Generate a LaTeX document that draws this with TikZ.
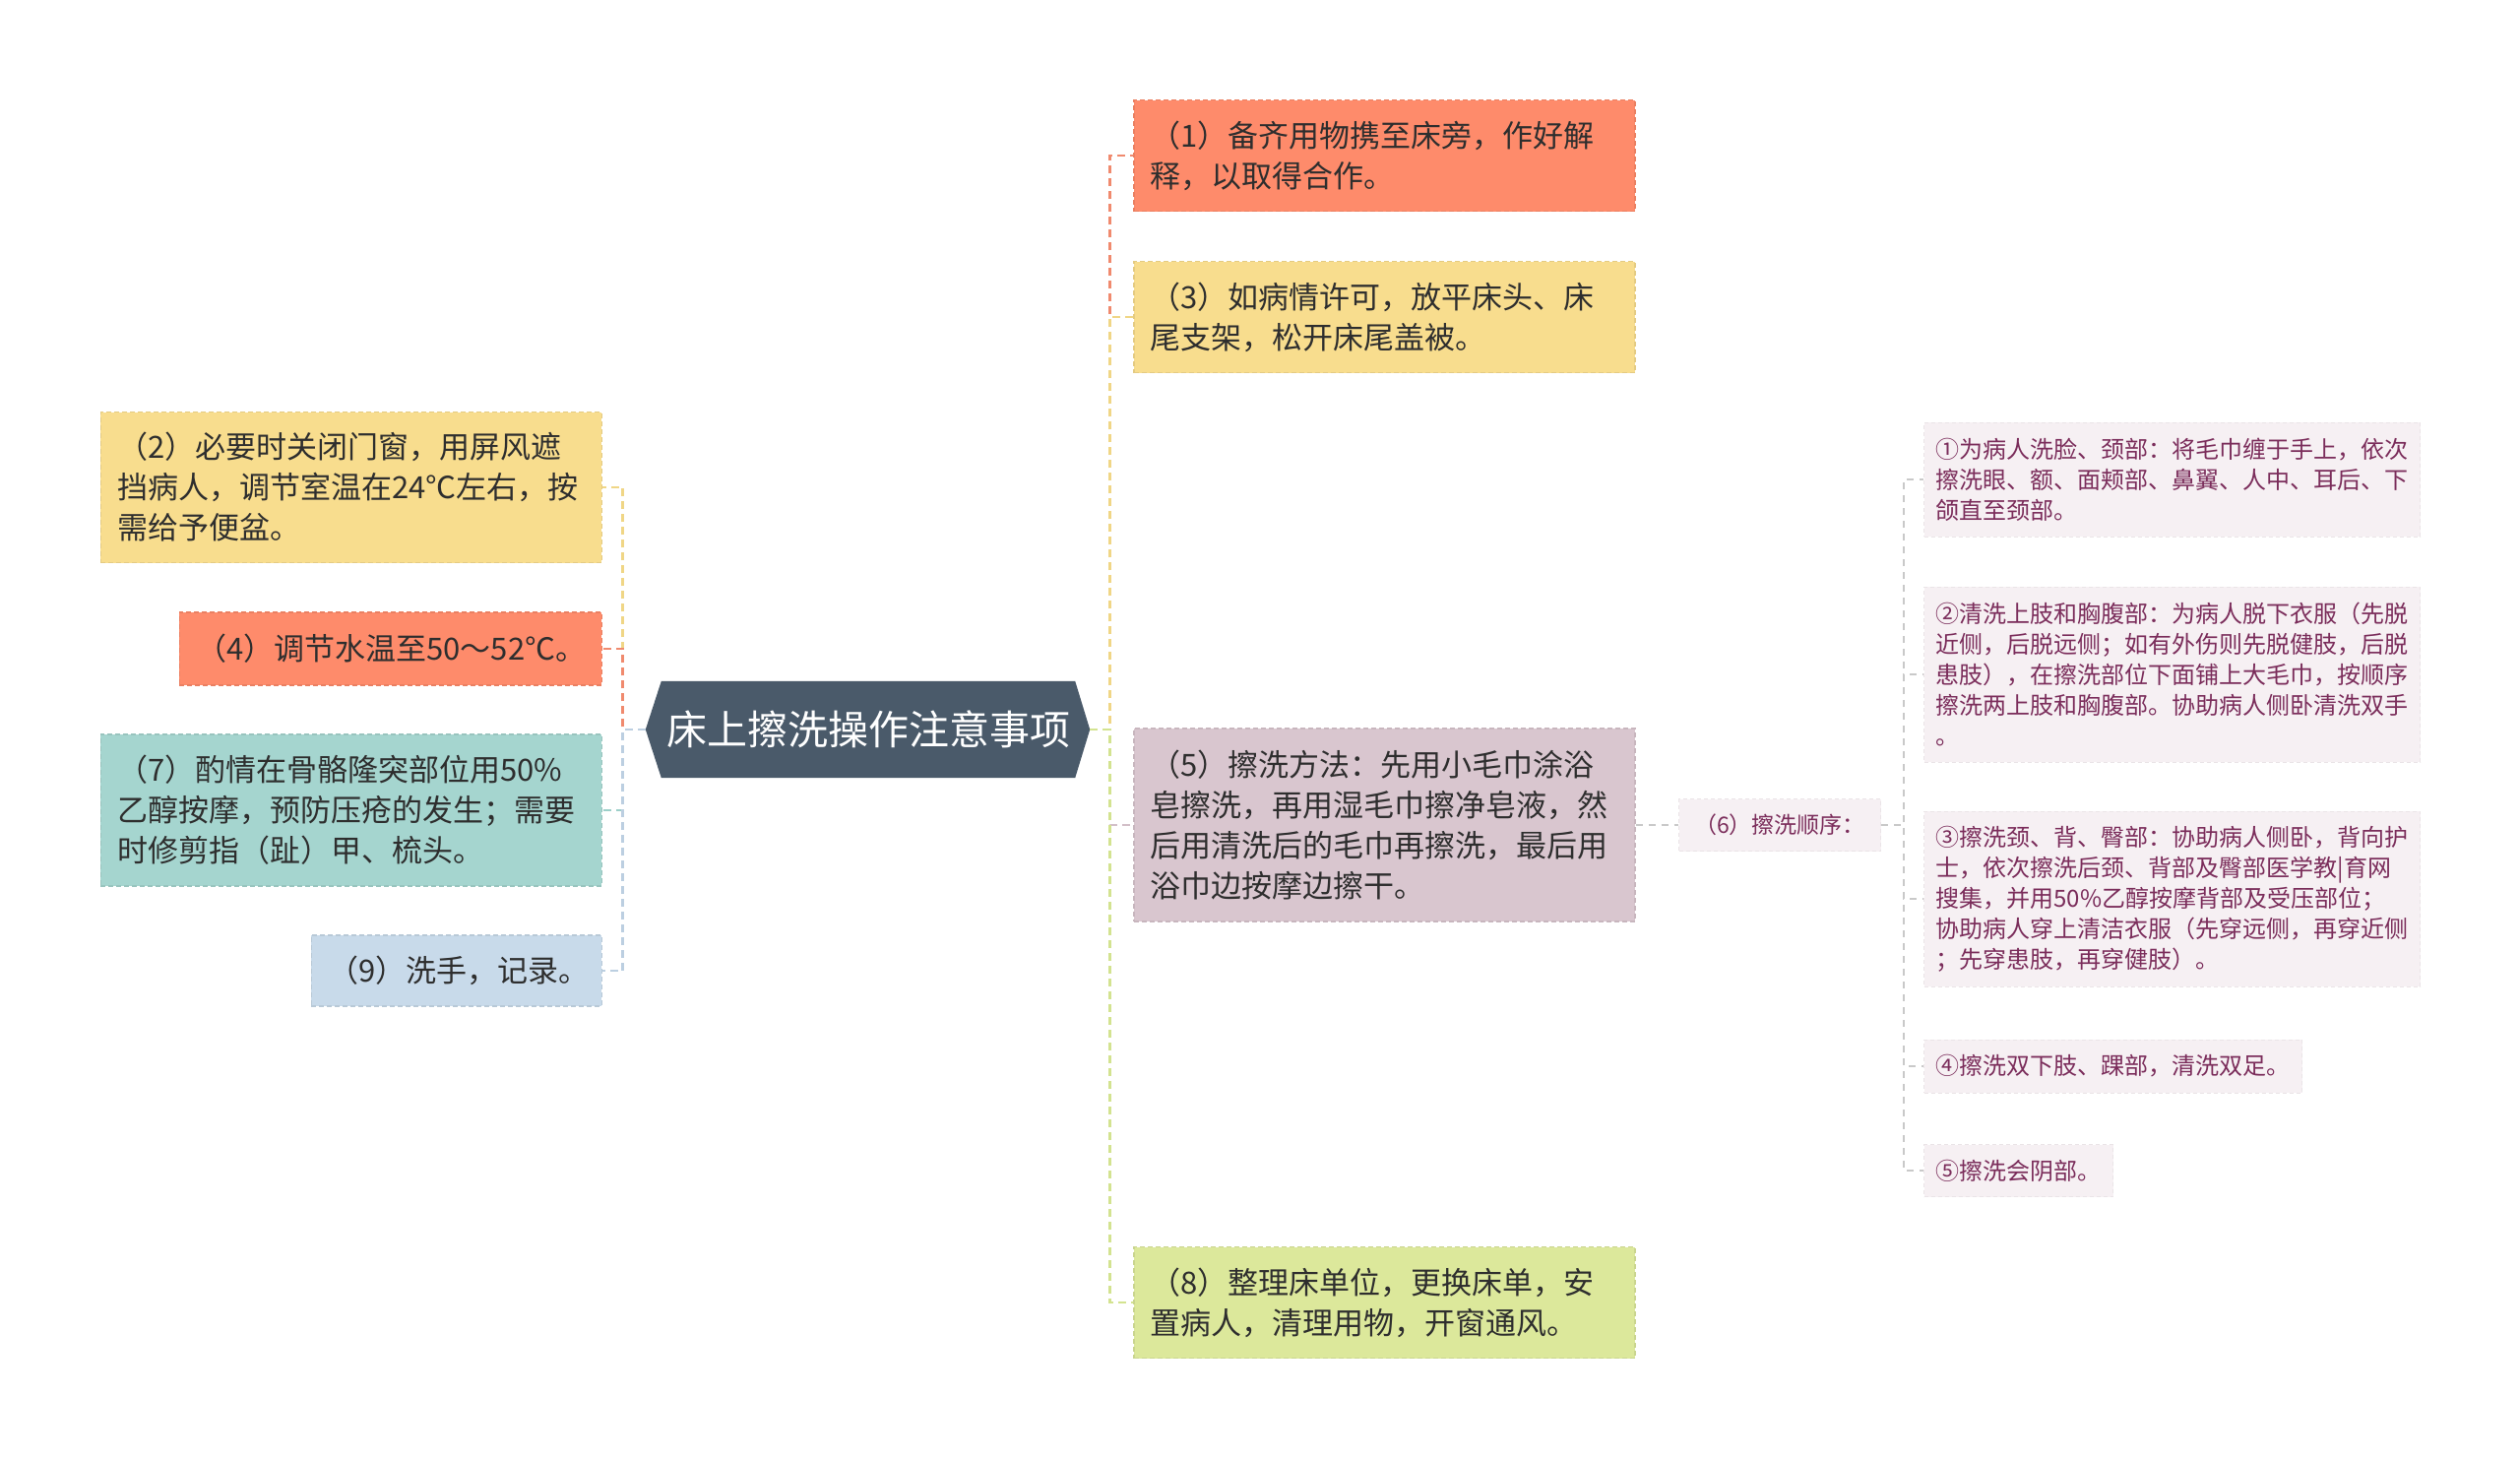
\documentclass[tikz,border=0pt]{standalone}
\usepackage{fontspec}
\newfontfamily\cjk{Noto Sans CJK SC}
\usetikzlibrary{positioning, backgrounds, calc}

% Box and line colours
\definecolor{rootfill}{HTML}{4A5A6A}
\definecolor{boxred}{HTML}{FE8B6B}
\definecolor{boxyellow}{HTML}{F8DD8E}
\definecolor{boxteal}{HTML}{A5D5CF}
\definecolor{boxblue}{HTML}{C8DAEA}
\definecolor{boxpink}{HTML}{D9C6CF}
\definecolor{boxgreen}{HTML}{DCE89B}
\definecolor{linered}{HTML}{F08A6E}
\definecolor{lineyellow}{HTML}{F0D686}
\definecolor{lineteal}{HTML}{9CCFC9}
\definecolor{lineblue}{HTML}{BCCFE1}
\definecolor{linepink}{HTML}{D3BFC8}
\definecolor{linegreen}{HTML}{D3E390}
\definecolor{subfill}{HTML}{F6F0F3}
\definecolor{subline}{HTML}{C9C9C9}
\definecolor{subtext}{HTML}{7B2D5B}
\definecolor{maintext}{HTML}{2E2E2E}

\begin{document}
\begin{tikzpicture}[
    x=1pt, y=-1pt,
    % Styles
    root/.style={ % central topic
        rectangle,
        minimum width=420pt,
        minimum height=98pt,
        inner sep=0pt,
        text=white,
        font=\cjk\fontsize{41pt}{41pt}\selectfont
    },
    topic/.style={ % numbered step box
        rectangle,
        draw=#1!92!black,
        fill=#1,
        dash pattern=on 5pt off 3pt,
        line width=1.5pt,
        inner xsep=17pt,
        inner ysep=0pt,
        text width=475pt,
        minimum height=113pt,
        align=left,
        text=maintext,
        font=\cjk\fontsize{31pt}{41pt}\selectfont
    },
    sub/.style={ % washing order item
        rectangle,
        draw=subfill!95!black,
        fill=subfill,
        dash pattern=on 4pt off 3pt,
        line width=1pt,
        inner xsep=12pt,
        inner ysep=0pt,
        align=left,
        anchor=west,
        text=subtext,
        font=\cjk\fontsize{24pt}{31pt}\selectfont
    },
    link/.style={ % dashed connector
        line width=2.8pt,
        dash pattern=on 8pt off 5pt
    },
    sublink/.style={
        draw=subline,
        line width=2pt,
        dash pattern=on 7pt off 6pt
    }
]

    % Page and background
    \useasboundingbox (0,0) rectangle (2560,1483);
    \begin{scope}[on background layer]
        \fill[white] (0,0) rectangle (2560,1483);
    \end{scope}

    % Central topic
    \node[root] (root) at (882,741) {床上擦洗操作注意事项};
    \coordinate (rootL) at ($(root.west)+(-16,0)$);
    \coordinate (rootR) at ($(root.east)+(15,0)$);
    \begin{scope}[on background layer]
        \fill[rootfill] (root.north west) -- (rootL) -- (root.south west)
            -- (root.south east) -- (rootR) -- (root.north east) -- cycle;
    \end{scope}

    % Right branch
    \node[topic=boxred, anchor=west] (n1) at (1151,158)
        {（1）备齐用物携至床旁，作好解\\释，以取得合作。};
    \node[topic=boxyellow, anchor=west] (n3) at (1151,322)
        {（3）如病情许可，放平床头、床\\尾支架，松开床尾盖被。};
    \node[topic=boxpink, anchor=west, minimum height=196pt] (n5) at (1151,838)
        {（5）擦洗方法：先用小毛巾涂浴\\皂擦洗，再用湿毛巾擦净皂液，然\\后用清洗后的毛巾再擦洗，最后用\\浴巾边按摩边擦干。};
    \node[topic=boxgreen, anchor=west] (n8) at (1151,1323)
        {（8）整理床单位，更换床单，安\\置病人，清理用物，开窗通风。};

    % Left branch
    \node[topic=boxyellow, anchor=east, minimum height=153pt] (n2) at (612,495)
        {（2）必要时关闭门窗，用屏风遮\\挡病人，调节室温在24℃左右，按\\需给予便盆。};
    \node[topic=boxred, anchor=east, text width=395pt, minimum height=74pt] (n4) at (612,659)
        {（4）调节水温至50～52℃。};
    \node[topic=boxteal, anchor=east, minimum height=154pt] (n7) at (612,823)
        {（7）酌情在骨骼隆突部位用50\%\\乙醇按摩，预防压疮的发生；需要\\时修剪指（趾）甲、梳头。};
    \node[topic=boxblue, anchor=east, text width=261pt, minimum height=72pt] (n9) at (612,986)
        {（9）洗手，记录。};

    % Washing order
    \node[sub, minimum width=205pt, minimum height=53pt, align=center,
        font=\cjk\fontsize{23pt}{28pt}\selectfont] (n6) at (1705,838) {（6）擦洗顺序：};
    \node[sub, minimum height=116pt] (s1) at (1954,487)
        {①为病人洗脸、颈部：将毛巾缠于手上，依次\\擦洗眼、额、面颊部、鼻翼、人中、耳后、下\\颌直至颈部。};
    \node[sub, minimum height=178pt] (s2) at (1954,685)
        {②清洗上肢和胸腹部：为病人脱下衣服（先脱\\近侧，后脱远侧；如有外伤则先脱健肢，后脱\\患肢），在擦洗部位下面铺上大毛巾，按顺序\\擦洗两上肢和胸腹部。协助病人侧卧清洗双手\\。};
    \node[sub, minimum height=178pt] (s3) at (1954,913)
        {③擦洗颈、背、臀部：协助病人侧卧，背向护\\士，依次擦洗后颈、背部及臀部医学教|育网\\搜集，并用50\%乙醇按摩背部及受压部位；\\协助病人穿上清洁衣服（先穿远侧，再穿近侧\\；先穿患肢，再穿健肢）。};
    \node[sub, minimum height=54pt] (s4) at (1954,1083) {④擦洗双下肢、踝部，清洗双足。};
    \node[sub, minimum height=53pt] (s5) at (1954,1189) {⑤擦洗会阴部。};

    % Connectors from the central topic
    \foreach \N/\C in {n1/linered, n3/lineyellow, n5/linepink, n8/linegreen} {
        \draw[link, draw=\C] (rootR) -- ++(20,0) |- (\N.west);
    }
    \foreach \N/\C in {n2/lineyellow, n4/linered, n7/lineteal, n9/lineblue} {
        \draw[link, draw=\C] (rootL) -- ++(-23,0) |- (\N.east);
    }

    % Connectors of the washing order
    \draw[sublink] (n5.east) -- (n6.west);
    \foreach \N in {s1, s2, s3, s4, s5} {
        \draw[sublink] (n6.east) -- ++(23,0) |- (\N.west);
    }

\end{tikzpicture}
\end{document}
